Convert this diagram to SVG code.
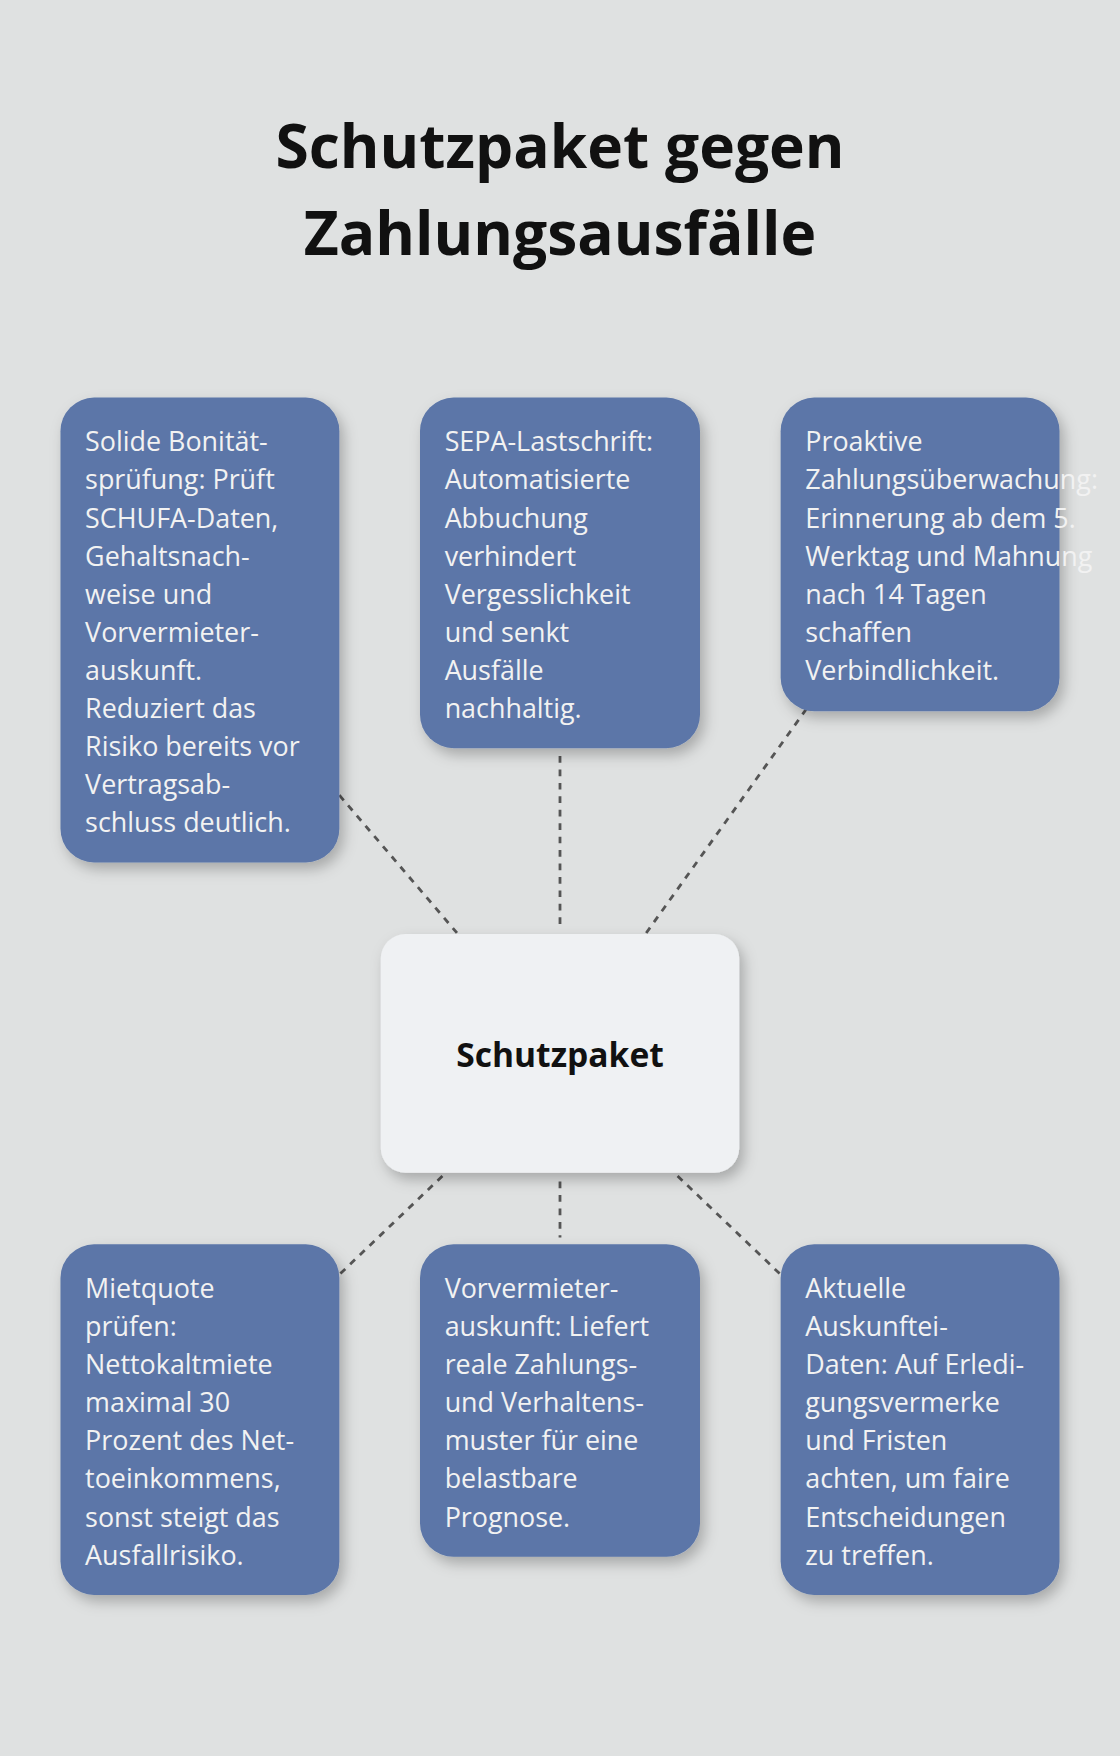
<svg xmlns="http://www.w3.org/2000/svg" width="1120" height="1756" viewBox="0 0 1120 1756">
<defs>
<filter id="sh" x="-20%" y="-20%" width="140%" height="140%"><feDropShadow dx="4" dy="6" stdDeviation="6" flood-color="#000" flood-opacity="0.25"/></filter>
<style>
.box{fill:#5b76a8;filter:url(#sh)}
.t{font-family:"Open Sans",sans-serif;font-size:24px;fill:#f2f2f2}
.c{stroke:#555;stroke-width:2.5;stroke-dasharray:6 6;fill:none}
</style>
</defs>
<rect width="1120" height="1756" fill="#dfe1e1"/>
<g transform="scale(1.12)">
<g font-family="'Open Sans',sans-serif" font-weight="700" font-size="54" text-anchor="middle" fill="#111">
<text x="500" y="150">Schutzpaket gegen</text>
<text x="500" y="228">Zahlungsausfälle</text>
</g>
<g id="connectors">
<line class="c" x1="303" y1="710" x2="408" y2="833"/>
<line class="c" x1="500" y1="675" x2="500" y2="828"/>
<line class="c" x1="720" y1="633" x2="577" y2="833"/>
<line class="c" x1="395" y1="1050" x2="303" y2="1138"/>
<line class="c" x1="500" y1="1055" x2="500" y2="1105"/>
<line class="c" x1="605" y1="1050" x2="697" y2="1138"/>
</g>
<g id="center"><rect x="340" y="834" width="320" height="213" rx="22" fill="#eff1f3" filter="url(#sh)"/>
<text x="500" y="953" text-anchor="middle" font-family="'Open Sans',sans-serif" font-weight="700" font-size="30" fill="#111">Schutzpaket</text></g>
<g id="n1"><rect class="box" x="54" y="355" width="249" height="415" rx="30"/>
<text class="t"><tspan x="76" y="403">Solide Bonität-</tspan><tspan x="76" y="437">sprüfung: Prüft</tspan><tspan x="76" y="471">SCHUFA-Daten,</tspan><tspan x="76" y="505">Gehaltsnach-</tspan><tspan x="76" y="539">weise und</tspan><tspan x="76" y="573">Vorvermieter-</tspan><tspan x="76" y="607">auskunft.</tspan><tspan x="76" y="641">Reduziert das</tspan><tspan x="76" y="675">Risiko bereits vor</tspan><tspan x="76" y="709">Vertragsab-</tspan><tspan x="76" y="743">schluss deutlich.</tspan></text></g>
<g id="n2"><rect class="box" x="375" y="355" width="250" height="313" rx="30"/>
<text class="t"><tspan x="397" y="403">SEPA-Lastschrift:</tspan><tspan x="397" y="437">Automatisierte</tspan><tspan x="397" y="471">Abbuchung</tspan><tspan x="397" y="505">verhindert</tspan><tspan x="397" y="539">Vergesslichkeit</tspan><tspan x="397" y="573">und senkt</tspan><tspan x="397" y="607">Ausfälle</tspan><tspan x="397" y="641">nachhaltig.</tspan></text></g>
<g id="n3"><rect class="box" x="697" y="355" width="249" height="280" rx="30"/>
<text class="t"><tspan x="719" y="403">Proaktive</tspan><tspan x="719" y="437">Zahlungsüberwachung:</tspan><tspan x="719" y="471">Erinnerung ab dem 5.</tspan><tspan x="719" y="505">Werktag und Mahnung</tspan><tspan x="719" y="539">nach 14 Tagen</tspan><tspan x="719" y="573">schaffen</tspan><tspan x="719" y="607">Verbindlichkeit.</tspan></text></g>
<g id="n4"><rect class="box" x="54" y="1111" width="249" height="313" rx="30"/>
<text class="t"><tspan x="76" y="1159">Mietquote</tspan><tspan x="76" y="1193">prüfen:</tspan><tspan x="76" y="1227">Nettokaltmiete</tspan><tspan x="76" y="1261">maximal 30</tspan><tspan x="76" y="1295">Prozent des Net-</tspan><tspan x="76" y="1329">toeinkommens,</tspan><tspan x="76" y="1363">sonst steigt das</tspan><tspan x="76" y="1397">Ausfallrisiko.</tspan></text></g>
<g id="n5"><rect class="box" x="375" y="1111" width="250" height="279" rx="30"/>
<text class="t"><tspan x="397" y="1159">Vorvermieter-</tspan><tspan x="397" y="1193">auskunft: Liefert</tspan><tspan x="397" y="1227">reale Zahlungs-</tspan><tspan x="397" y="1261">und Verhaltens-</tspan><tspan x="397" y="1295">muster für eine</tspan><tspan x="397" y="1329">belastbare</tspan><tspan x="397" y="1363">Prognose.</tspan></text></g>
<g id="n6"><rect class="box" x="697" y="1111" width="249" height="313" rx="30"/>
<text class="t"><tspan x="719" y="1159">Aktuelle</tspan><tspan x="719" y="1193">Auskunftei-</tspan><tspan x="719" y="1227">Daten: Auf Erledi-</tspan><tspan x="719" y="1261">gungsvermerke</tspan><tspan x="719" y="1295">und Fristen</tspan><tspan x="719" y="1329">achten, um faire</tspan><tspan x="719" y="1363">Entscheidungen</tspan><tspan x="719" y="1397">zu treffen.</tspan></text></g>
</g>
</svg>
